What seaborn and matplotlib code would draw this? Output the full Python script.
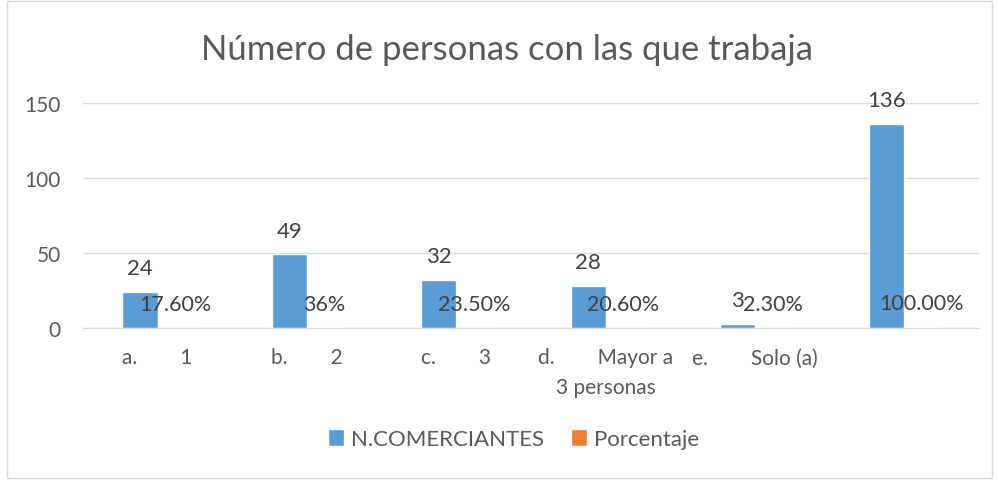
import pandas as pd
import numpy as np
import matplotlib
matplotlib.use("Agg")
import matplotlib.pyplot as plt
import seaborn as sns
from matplotlib.patches import Rectangle

# data
categories = ["a.        1", "b.        2", "c.        3",
              "d.        Mayor a\n3 personas", "e.        Solo (a)", ""]
comerciantes = [24, 49, 32, 28, 3, 136]
porcentaje = [0.176, 0.36, 0.235, 0.206, 0.023, 1.0]
porcentaje_labels = ["17.60%", "36%", "23.50%", "20.60%", "2.30%", "100.00%"]
series_names = ["N.COMERCIANTES", "Porcentaje"]
colors = ["#5B9BD5", "#ED7D31"]

df = pd.DataFrame({
    "categoria": categories * 2,
    "valor": comerciantes + porcentaje,
    "serie": [series_names[0]] * len(categories) + [series_names[1]] * len(categories),
})

sns.set_style("white")
plt.rcParams["font.family"] = ["Lato", "DejaVu Sans"]

fig = plt.figure(figsize=(9.99, 4.81), dpi=100)
ax = fig.add_axes([0.083, 0.316, 0.897, 0.468])

sns.barplot(data=df, x="categoria", y="valor", hue="serie", palette=colors,
            width=0.47, ax=ax, saturation=1)

ax.set_ylim(0, 150)
ax.set_yticks([0, 50, 100, 150])
ax.yaxis.grid(True, color="#D9D9D9", linewidth=1)
ax.set_axisbelow(True)
for s in ["top", "right", "left"]:
    ax.spines[s].set_visible(False)
ax.spines["bottom"].set_color("#D9D9D9")
ax.tick_params(axis="both", length=0, labelsize=15, colors="#595959")
ax.tick_params(axis="y", pad=16)
ax.tick_params(axis="x", pad=14)
for lbl in ax.get_xticklabels():
    lbl.set_linespacing(1.6)
ax.set_xlabel("")
ax.set_ylabel("")

# data labels
ax.bar_label(ax.containers[0], labels=[str(v) for v in comerciantes],
             padding=10, fontsize=16, color="#404040")
ax.bar_label(ax.containers[1], labels=porcentaje_labels,
             padding=10, fontsize=15.5, color="#404040")

ax.get_legend().remove()
handles, labels = ax.get_legend_handles_labels()
leg = fig.legend(handles, labels, loc="center", bbox_to_anchor=(0.514, 0.085), ncol=2,
                 frameon=False, fontsize=16, handlelength=0.75, handleheight=0.75,
                 columnspacing=1.2, handletextpad=0.3)
for t in leg.get_texts():
    t.set_color("#595959")

fig.text(0.508, 0.896, "Número de personas con las que trabaja",
         ha="center", va="center", fontsize=25, color="#595959")

# outer chart border
fig.patches.append(Rectangle((0.007, 0.004), 0.986, 0.992, transform=fig.transFigure,
                             fill=False, edgecolor="#D9D9D9", linewidth=1))

fig.savefig("out.png", dpi=100)
